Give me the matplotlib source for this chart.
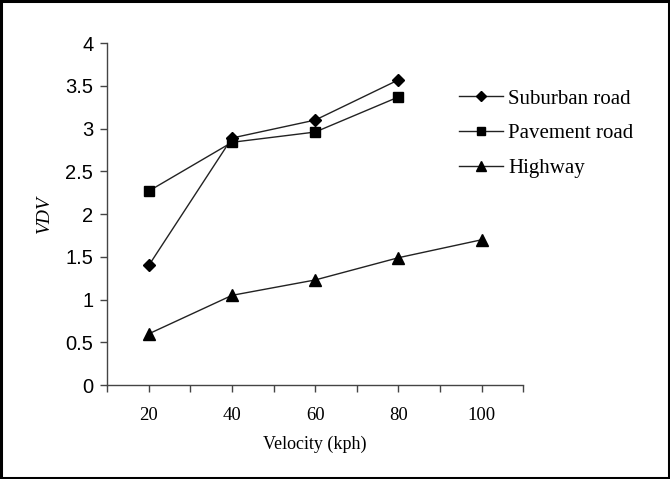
import matplotlib
matplotlib.use('Agg')
import matplotlib.pyplot as plt
from matplotlib.patches import Rectangle

# ── data ─────────────────────────────────────────────────────────────────────
velocity_sub = [20, 40, 60, 80]
suburban = [1.40, 2.89, 3.10, 3.57]
velocity_pav = [20, 40, 60, 80]
pavement = [2.27, 2.84, 2.96, 3.37]
velocity_hwy = [20, 40, 60, 80, 100]
highway = [0.60, 1.05, 1.23, 1.49, 1.70]
x_ticklabels = [20, 40, 60, 80, 100]
y_ticks = [0, 0.5, 1, 1.5, 2, 2.5, 3, 3.5, 4]

SERIF = 'Liberation Serif'
SANS = 'Liberation Sans'

fig = plt.figure(figsize=(6.70, 4.79), dpi=100)
ax = fig.add_axes([0.160, 0.196, 0.621, 0.714])

line_kw = dict(color='#222222', linewidth=1.0, markeredgecolor='black',
               markerfacecolor='black')
ax.plot(velocity_sub, suburban, marker='D', markersize=6.5, label='Suburban road', **line_kw)
ax.plot(velocity_pav, pavement, marker='s', markersize=6.5, label='Pavement road', **line_kw)
ax.plot(velocity_hwy, highway, marker='^', markersize=8, label='Highway', **line_kw)

ax.set_xlim(10, 110)
ax.set_ylim(0, 4)
ax.set_xticks(range(10, 111, 10))
ax.set_xticklabels(['' if v not in x_ticklabels else str(v) for v in range(10, 111, 10)],
                   fontfamily=SERIF, fontsize=13.5)
ax.set_yticks(y_ticks)
ax.set_yticklabels([f'{v:g}' for v in y_ticks], fontfamily=SANS, fontsize=14.5)

for s in ('top', 'right'):
    ax.spines[s].set_visible(False)
for s in ('left', 'bottom'):
    ax.spines[s].set_color('#444444')
    ax.spines[s].set_linewidth(1.0)
ax.tick_params(axis='both', direction='out', length=5, width=1.0, color='#444444')
ax.tick_params(axis='x', pad=11)
ax.tick_params(axis='y', pad=5)

ax.set_xlabel('Velocity (kph)', fontfamily=SERIF, fontsize=13, labelpad=8)
ax.set_ylabel('VDV', fontfamily=SERIF, fontstyle='italic', fontsize=14, labelpad=9)

leg = fig.legend(loc='upper left', bbox_to_anchor=(0.657, 0.853), frameon=False,
                 prop={'family': SERIF, 'size': 15}, handlelength=2.1,
                 handletextpad=0.25, labelspacing=0.72, markerscale=0.85)

# outer frame around the whole figure
fig.patches.append(Rectangle((0.002, 0.002), 0.996, 0.996, transform=fig.transFigure,
                             fill=False, edgecolor='black', linewidth=2.2))

fig.savefig('out.png', dpi=100, facecolor='white')
